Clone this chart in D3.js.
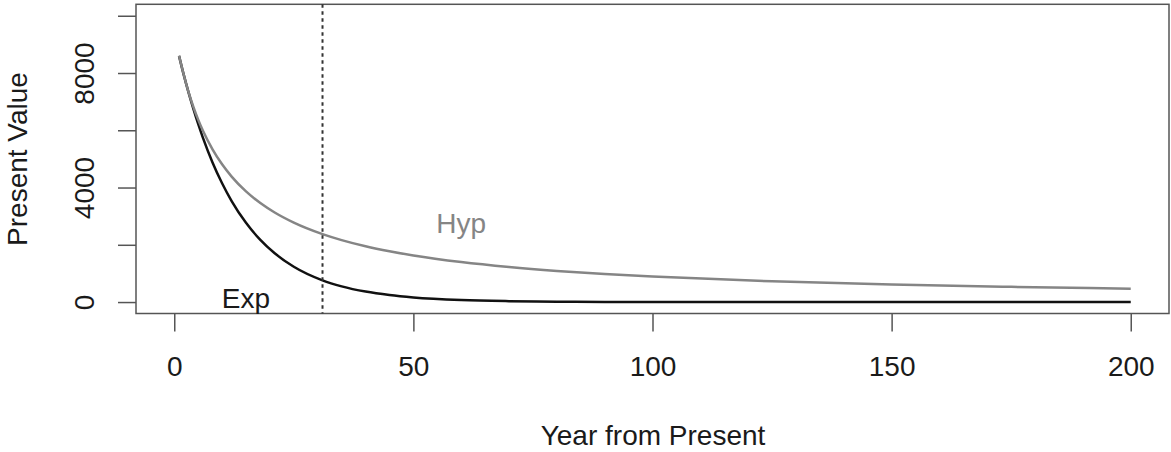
<!DOCTYPE html>
<html>
<head>
<meta charset="utf-8">
<script src="https://cdn.jsdelivr.net/npm/d3@7"></script>
<style>
body { margin:0; background:#fff; }
text { font-family: "Liberation Sans", Arial, sans-serif; }
</style>
</head>
<body>
<svg id="svg" width="1171" height="452"></svg>
<script>
// values
var years = [1,2,3,4,5,6,8,10,12,15,18,21,25,31,35,40,45,50,60,70,80,90,100,125,150,175,200];
var expValues = [8600,7925,7314,6745,6220,5736,4878,4149,3528,2767,2170,1702,1231,757,548,365,244,162,72,32,14,6,3,0,0,0,0];
var hypValues = [8603,7930,7321,6814,6372,5983,5334,4811,4382,3865,3457,3127,2774,2372,2163,1948,1773,1626,1395,1222,1086,978,890,725,612,530,467];
var xTicks = [0,50,100,150,200];
var yTicks = [0,2000,4000,6000,8000,10000];
var yTickLabels = ["0","","4000","","8000",""];
var cutYear = 31;
var labelText = ["Exp","Hyp"];
var labelX = [15,60];
var labelY = [150,2750];

var svg = d3.select("#svg");

// scales (R style: range padded 4%)
var scaleX = d3.scaleLinear().domain([-8,208]).range([136,1169]);
var scaleY = d3.scaleLinear().domain([-400,10400]).range([313.5,4.3]);

// axes
var axisX = d3.axisBottom(scaleX).tickValues(xTicks).tickSize(18).tickSizeOuter(0);
var gAxisX = svg.append("g").attr("transform","translate(0,313.5)").call(axisX);
gAxisX.select(".domain").remove();
gAxisX.selectAll("line").attr("stroke","#555").attr("stroke-width",1.5);
gAxisX.selectAll("text").attr("y",62.5).attr("dy",0).style("font-size","28px").attr("fill","#1a1a1a");

var axisY = d3.axisLeft(scaleY).tickValues(yTicks).tickSize(18).tickSizeOuter(0)
	.tickFormat(function(d,i){ return yTickLabels[i]; });
var gAxisY = svg.append("g").attr("transform","translate(136,0)").call(axisY);
gAxisY.select(".domain").remove();
gAxisY.selectAll("line").attr("stroke","#555").attr("stroke-width",1.5);
gAxisY.selectAll("text")
	.attr("transform","rotate(-90)")
	.attr("x",0).attr("y",-42).attr("dy",0)
	.attr("text-anchor","middle")
	.style("font-size","28px").attr("fill","#1a1a1a");

// box
svg.append("rect")
	.attr("x",136).attr("y",4.3)
	.attr("width",1033).attr("height",309.2)
	.attr("fill","none").attr("stroke","#555").attr("stroke-width",1.5);

// curves
var line = d3.line().curve(d3.curveMonotoneX);
svg.append("path")
	.attr("d", line(years.map(function(d,i){ return [scaleX(d), scaleY(expValues[i])]; })))
	.attr("fill","none").attr("stroke","#111").attr("stroke-width",2.5);
svg.append("path")
	.attr("d", line(years.map(function(d,i){ return [scaleX(d), scaleY(hypValues[i])]; })))
	.attr("fill","none").attr("stroke","#858585").attr("stroke-width",2.5);

// dotted line
svg.append("line")
	.attr("x1",scaleX(cutYear)).attr("x2",scaleX(cutYear))
	.attr("y1",scaleY.range()[1]).attr("y2",scaleY.range()[0])
	.attr("stroke","#333").attr("stroke-width",2).attr("stroke-dasharray","3.5,3.5");

// curve labels
svg.selectAll("text.lab")
	.data(labelText)
	.enter()
	.append("text")
	.attr("class","lab")
	.attr("x", function(d,i){ return scaleX(labelX[i]); })
	.attr("y", function(d,i){ return scaleY(labelY[i]); })
	.attr("dy","0.35em")
	.attr("text-anchor","middle")
	.style("font-size","28px")
	.attr("fill", function(d,i){ return i==0 ? "#1a1a1a" : "#858585"; })
	.text(function(d){ return d; });

// axis titles
svg.append("text")
	.attr("x",653).attr("y",445)
	.attr("text-anchor","middle")
	.style("font-size","28px").attr("fill","#1a1a1a")
	.text("Year from Present");

svg.append("text")
	.attr("transform","translate(27,159) rotate(-90)")
	.attr("text-anchor","middle")
	.style("font-size","28px").attr("fill","#1a1a1a")
	.text("Present Value");
</script>
</body>
</html>
